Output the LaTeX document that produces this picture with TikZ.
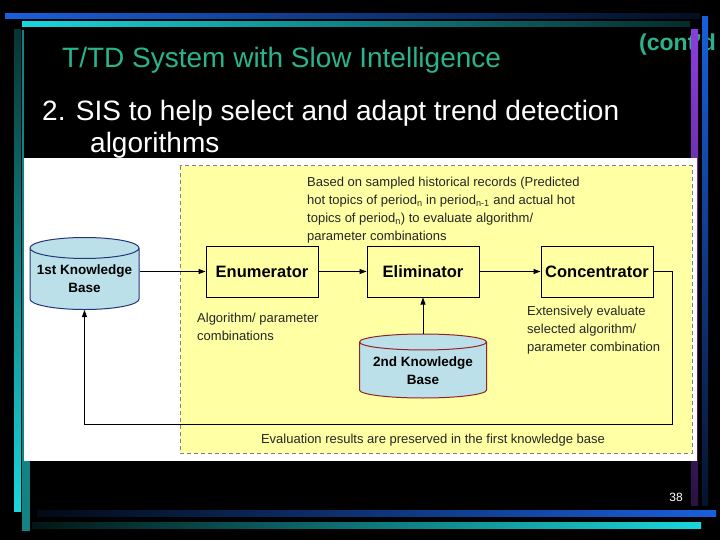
\documentclass[tikz,border=0pt]{standalone}
\usepackage{fontspec}
\setmainfont{Liberation Sans}
\usepackage{tikz}
\usetikzlibrary{positioning,arrows.meta,shapes.geometric}

\definecolor{slidegreen}{RGB}{40,180,140}
\definecolor{notefill}{RGB}{255,255,163}
\definecolor{kbfill}{RGB}{187,224,233}
\definecolor{kbblue}{RGB}{35,55,120}
\definecolor{kbred}{RGB}{150,35,35}
\definecolor{barblue}{RGB}{25,95,220}
\definecolor{barcyan}{RGB}{25,215,220}
\definecolor{barteal}{RGB}{20,130,130}
\definecolor{barpurple}{RGB}{140,60,220}

\begin{document}
\begin{tikzpicture}[
x=1pt, y=-1pt,
box/.style={draw=black, line width=1pt, fill=notefill, minimum width=112pt, minimum height=51pt, inner sep=0pt, font=\fontsize{16.5}{18}\selectfont\bfseries},
kb/.style={cylinder, shape border rotate=90, line width=1pt, fill=kbfill, inner sep=0pt, align=center, font=\fontsize{13.5}{18}\selectfont\bfseries},
note/.style={inner sep=0pt, align=left, text=black!85, font=\fontsize{13}{18}\selectfont},
arrow/.style={-{Triangle[length=7pt, width=5pt]}, black, line width=0.9pt},
slidetext/.style={anchor=base west, inner sep=0pt}
]
\useasboundingbox (0,0) rectangle (720,540);
\fill[black] (0,0) rectangle (720,540);

\node[slidetext, text=slidegreen, font=\fontsize{28}{34}\selectfont] (title) at (62,68) {T/TD System with Slow Intelligence};
\node[slidetext, text=slidegreen, font=\fontsize{23}{26}\selectfont\bfseries] (contd) at (639,51) {(cont’d};
\node[slidetext, text=white, font=\fontsize{28}{34}\selectfont] (point) at (42,121) {2. SIS to help select and adapt trend detection};
\node[slidetext, text=white, font=\fontsize{28}{34}\selectfont] (pointrest) at (90,153) {algorithms};

\shade[top color=barpurple, bottom color=barpurple!30!black] (691,30) rectangle (698,505);
\fill[white] (24,158) rectangle (697,461);

\shade[left color=barblue, right color=barblue!15!black] (5,14) rectangle (700,19);
\shade[left color=barcyan, right color=barcyan!20!black] (22,22) rectangle (690,27);
\shade[left color=barblue!10!black, right color=barblue] (37,510) rectangle (716,516);
\shade[left color=barcyan!10!black, right color=barcyan] (32,522) rectangle (701,528);
\shade[top color=barteal!40!black, bottom color=barcyan] (14,30) rectangle (21,511);
\fill[barteal] (22,30) rectangle (24,531);
\fill[barteal] (24,461) rectangle (30,531);
\shade[top color=barblue, bottom color=barblue!20!black] (702,17) rectangle (708,505);

\fill[notefill] (180,166) rectangle (692,453);
\draw[gray, line width=1pt, dash pattern=on 4pt off 3pt] (180,166) rectangle (692,453);

\node[box] (enum) at (262,271.5) {Enumerator};
\node[box, right=48pt of enum] (elim) {Eliminator};
\node[box, right=61pt of elim] (conc) {Concentrator};
\node[kb, draw=kbblue, minimum width=109pt, minimum height=72pt, aspect=0.22] (kbone) at (84.5,279) {1st Knowledge\\Base};
\node[kb, draw=kbred, minimum width=127pt, minimum height=64pt, aspect=0.16, below=36pt of elim] (kbtwo) {2nd Knowledge\\Base};

\node[note, anchor=north west] (basednote) at (307,177) {Based on sampled historical records (Predicted\\hot topics of period\textsubscript{n} in period\textsubscript{n-1} and actual hot\\topics of period\textsubscript{n}) to evaluate algorithm/\\parameter combinations};
\node[note, anchor=north west] (algnote) at (197,313) {Algorithm/ parameter\\combinations};
\node[note, anchor=north west] (extnote) at (527,306) {Extensively evaluate\\selected algorithm/\\parameter combination};
\node[note] (evalnote) at (433,440) {Evaluation results are preserved in the first knowledge base};

\coordinate (loopcorner) at (672,424);
\draw[arrow] (kbone.east |- enum.west) -- (enum.west);
\draw[arrow] (enum) -- (elim);
\draw[arrow] (elim) -- (conc);
\draw[arrow] (kbtwo) -- (elim);
\draw[arrow] (conc.east) -| (loopcorner) -| (kbone.south);

\node[text=white, font=\fontsize{12}{14}\selectfont] (pageno) at (676,497) {38};
\end{tikzpicture}
\end{document}
